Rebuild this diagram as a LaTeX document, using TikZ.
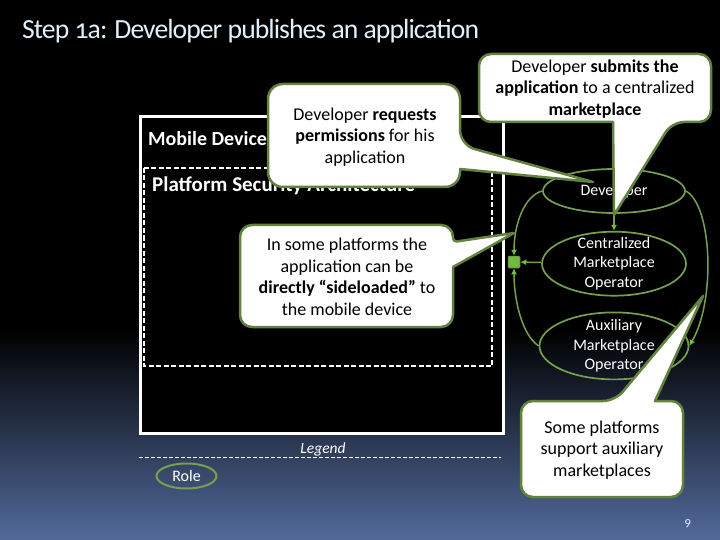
\documentclass[tikz,border=0pt]{standalone}
\usepackage{fontspec}
\setmainfont{Carlito}[Numbers=OldStyle]
\usetikzlibrary{positioning,shapes.geometric,arrows.meta}
\definecolor{rolegreen}{RGB}{118,160,80}
\definecolor{tipgreen}{RGB}{110,190,60}
\definecolor{calloutgreen}{RGB}{98,130,62}
\definecolor{slideblue}{RGB}{82,106,155}
\definecolor{titlewhite}{RGB}{225,240,250}
\tikzset{
    rolenode/.style={shape=ellipse,draw=rolegreen,line width=1.7pt,inner xsep=0pt,inner ysep=-8pt,
        text=white,align=center,font=\fontsize{16}{19.5}\selectfont},
    calloutbox/.style={draw=calloutgreen,fill=white,line width=2.5pt,rounded corners=12pt,line join=round},
    callouttext/.style={text=black,align=center,font=\fontsize{18}{21.5}\selectfont,inner sep=0pt},
    flow/.style={draw=rolegreen,line width=1.5pt,-{Latex[length=6pt,width=6pt,color=tipgreen]}}
}
\begin{document}
\begin{tikzpicture}[x=1pt,y=-1pt]
    \useasboundingbox (0,0) rectangle (720,540);
    \fill[black] (0,0) rectangle (720,330);
    \shade[top color=black,bottom color=slideblue] (0,330) rectangle (720,540);
    \node[text=titlewhite,anchor=west,inner sep=0pt,font=\fontsize{27.7}{30}\selectfont\addfontfeatures{LetterSpace=-3.5}] (title) at (22,31) {Step 1a: Developer publishes an application};
    \draw[white,fill=black,line width=3pt] (140,117) rectangle (503,433);
    \draw[white,line width=1.5pt,dash pattern=on 5pt off 2.5pt] (144,168) rectangle (492,366);
    \node[text=white,anchor=west,inner sep=0pt,font=\fontsize{20}{22}\selectfont\bfseries] (device) at (148,139) {Mobile Device};
    \node[text=white,anchor=west,inner sep=0pt,font=\fontsize{21}{22}\selectfont\bfseries] (platform) at (152,186) {Platform Security Architecture};
    \node[rolenode,minimum width=142pt,minimum height=44pt] (dev) at (614,191) {Developer};
    \node[rolenode,minimum width=144pt,minimum height=64pt,below=17pt of dev] (central) {Centralized\\Marketplace\\Operator};
    \node[rolenode,minimum width=149pt,minimum height=67pt,below=15pt of central] (aux) {Auxiliary\\Marketplace\\Operator};
    \node[draw=rolegreen,fill=tipgreen,line width=1.5pt,minimum size=11pt,inner sep=0pt,rounded corners=1pt] (app) at (514,262) {};
    \draw[flow] (dev) -- (central);
    \draw[flow] (central) -- (app);
    \draw[flow] (dev.west) .. controls (524,196) and (514,225) .. (app.north);
    \draw[flow] (aux.west) .. controls (522,335) and (514,300) .. (app.south);
    \draw[flow] (dev.east) .. controls (712,205) and (716,300) .. (aux.east);
    \draw[calloutbox,rounded corners=15pt] (268,84) -- (460,84) -- (460,145) [sharp corners] -- (593,182) -- (460,169) [rounded corners=15pt] -- (460,187) -- (268,187) -- cycle;
    \node[callouttext] (request) at (365,137) {Developer \textbf{requests}\\\textbf{permissions} for his\\application};
    \draw[calloutbox] (479,54) -- (711,54) -- (711,122) -- (672,122) [sharp corners] -- (614,215) -- (613,122) [rounded corners=12pt] -- (479,122) -- cycle;
    \node[callouttext] (submit) at (595,89) {Developer \textbf{submits the}\\\textbf{application} to a centralized\\\textbf{marketplace}};
    \draw[calloutbox] (240,225) -- (453,225) [rounded corners=4pt] -- (453,242) [sharp corners] -- (514,233) -- (453,267) [rounded corners=12pt] -- (453,327) -- (240,327) -- cycle;
    \node[callouttext] (sideload) at (347,277) {In some platforms the\\application can be\\\textbf{directly “sideloaded”} to\\the mobile device};
    \draw[calloutbox] (521,401) -- (615,401) [sharp corners] -- (703,296) -- (655,401) [rounded corners=12pt] -- (683,401) -- (683,497) -- (521,497) -- cycle;
    \node[callouttext] (some) at (602,450) {Some platforms\\support auxiliary\\marketplaces};
    \draw[white,line width=1pt,dash pattern=on 4pt off 2pt] (139,457) -- (501,457);
    \node[text=white,inner sep=0pt,font=\fontsize{15.5}{17}\selectfont\itshape] (legend) at (323,449) {Legend};
    \node[rolenode,line width=2pt,minimum width=60pt,minimum height=25pt] (role) at (186.5,476) {Role};
    \node[text=titlewhite,inner sep=0pt,font=\fontsize{13}{14}\selectfont] (page) at (688,524) {9};
\end{tikzpicture}
\end{document}
